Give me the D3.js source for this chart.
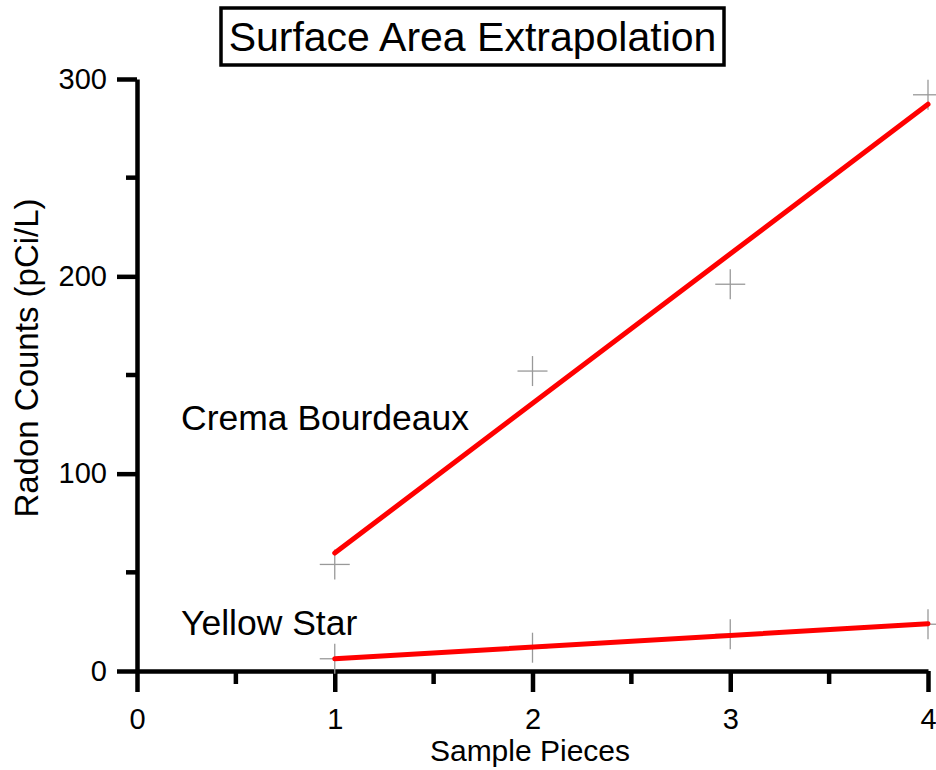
<!DOCTYPE html>
<html>
<head>
<meta charset="utf-8">
<script src="https://cdn.jsdelivr.net/npm/d3@7"></script>
<style>
  html, body { margin: 0; padding: 0; background: #fff; }
  svg { display: block; font-family: "Liberation Sans", Arial, sans-serif; }
</style>
</head>
<body>
<svg id="chart" width="936" height="770"></svg>
<script>
// ---- data ----
const samplePieces = [1, 2, 3, 4];
const cremaBourdeaux = [54, 152, 196, 292];
const yellowStar = [6.2, 11.8, 18.6, 23.7];
const seriesNames = ["Crema Bourdeaux", "Yellow Star"];
const xTicks = [0, 1, 2, 3, 4];
const xMinorTicks = [0.5, 1.5, 2.5, 3.5];
const yTicks = [0, 100, 200, 300];
const yMinorTicks = [50, 150, 250];
const chartTitle = "Surface Area Extrapolation";
const xTitle = "Sample Pieces";
const yTitle = "Radon Counts (pCi/L)";

// ---- layout ----
const svg = d3.select("#chart");
const x = d3.scaleLinear().domain([0, 4]).range([137, 928]);
const y = d3.scaleLinear().domain([0, 300]).range([671, 79]);

// least-squares fit line through each series
function fit(xs, ys) {
  const n = xs.length;
  const mx = d3.mean(xs), my = d3.mean(ys);
  let sxy = 0, sxx = 0;
  for (let i = 0; i < n; i++) { sxy += (xs[i] - mx) * (ys[i] - my); sxx += (xs[i] - mx) ** 2; }
  const b = sxy / sxx, a = my - b * mx;
  const x0 = d3.min(xs), x1 = d3.max(xs);
  return [[x0, a + b * x0], [x1, a + b * x1]];
}

const series = [
  { name: seriesNames[0], values: cremaBourdeaux, lx: 181, ly: 430 },
  { name: seriesNames[1], values: yellowStar, lx: 181, ly: 635 }
];

// ---- axes ----
const axisW = 4.5;
const gx = svg.append("g").attr("transform", `translate(0,${y(0)})`)
  .call(d3.axisBottom(x).tickValues(xTicks).tickFormat(d3.format("d"))
    .tickSize(21).tickSizeOuter(0).tickPadding(16));
gx.append("g").selectAll("line").data(xMinorTicks).join("line")
  .attr("x1", d => x(d)).attr("x2", d => x(d)).attr("y1", 0).attr("y2", 13);

const gy = svg.append("g").attr("transform", `translate(${x(0)},0)`)
  .call(d3.axisLeft(y).tickValues(yTicks).tickFormat(d3.format("d"))
    .tickSize(20).tickSizeOuter(0).tickPadding(10));
gy.append("g").selectAll("line").data(yMinorTicks).join("line")
  .attr("y1", d => y(d)).attr("y2", d => y(d)).attr("x1", 0).attr("x2", -11);

[gx, gy].forEach(g => {
  g.selectAll("path.domain").attr("stroke", "#000").attr("stroke-width", axisW);
  g.selectAll("line").attr("stroke", "#000").attr("stroke-width", axisW);
  g.selectAll("text").attr("fill", "#000").style("font-size", "29px")
    .style("font-family", '"Liberation Sans", Arial, sans-serif');
});

// ---- markers ----
const half = 15;
series.forEach(s => {
  const g = svg.append("g").attr("stroke", "#999").attr("stroke-width", 1.3);
  samplePieces.forEach((p, i) => {
    const cx = x(p), cy = y(s.values[i]);
    g.append("line").attr("x1", cx - half).attr("x2", cx + half).attr("y1", cy).attr("y2", cy);
    g.append("line").attr("x1", cx).attr("x2", cx).attr("y1", cy - half).attr("y2", cy + half);
  });
});

// ---- fit lines ----
const line = d3.line().x(d => x(d[0])).y(d => y(d[1]));
series.forEach(s => {
  svg.append("path").datum(fit(samplePieces, s.values))
    .attr("d", line).attr("fill", "none")
    .attr("stroke", "#ff0000").attr("stroke-width", 5).attr("stroke-linecap", "round");
});

// ---- series labels ----
series.forEach(s => {
  svg.append("text").attr("x", s.lx).attr("y", s.ly)
    .style("font-size", "35.5px").attr("fill", "#000").text(s.name);
});

// ---- titles ----
svg.append("rect").attr("x", 221).attr("y", 8).attr("width", 503).attr("height", 57)
  .attr("fill", "#fff").attr("stroke", "#000").attr("stroke-width", 3.5);
svg.append("text").attr("x", 472.5).attr("y", 51).attr("text-anchor", "middle")
  .style("font-size", "41px").attr("fill", "#000").text(chartTitle);

svg.append("text").attr("x", 530).attr("y", 761).attr("text-anchor", "middle")
  .style("font-size", "30px").attr("fill", "#000").text(xTitle);

svg.append("text").attr("transform", "translate(38,358) rotate(-90)")
  .attr("text-anchor", "middle").style("font-size", "33px").attr("fill", "#000").text(yTitle);
</script>
</body>
</html>
